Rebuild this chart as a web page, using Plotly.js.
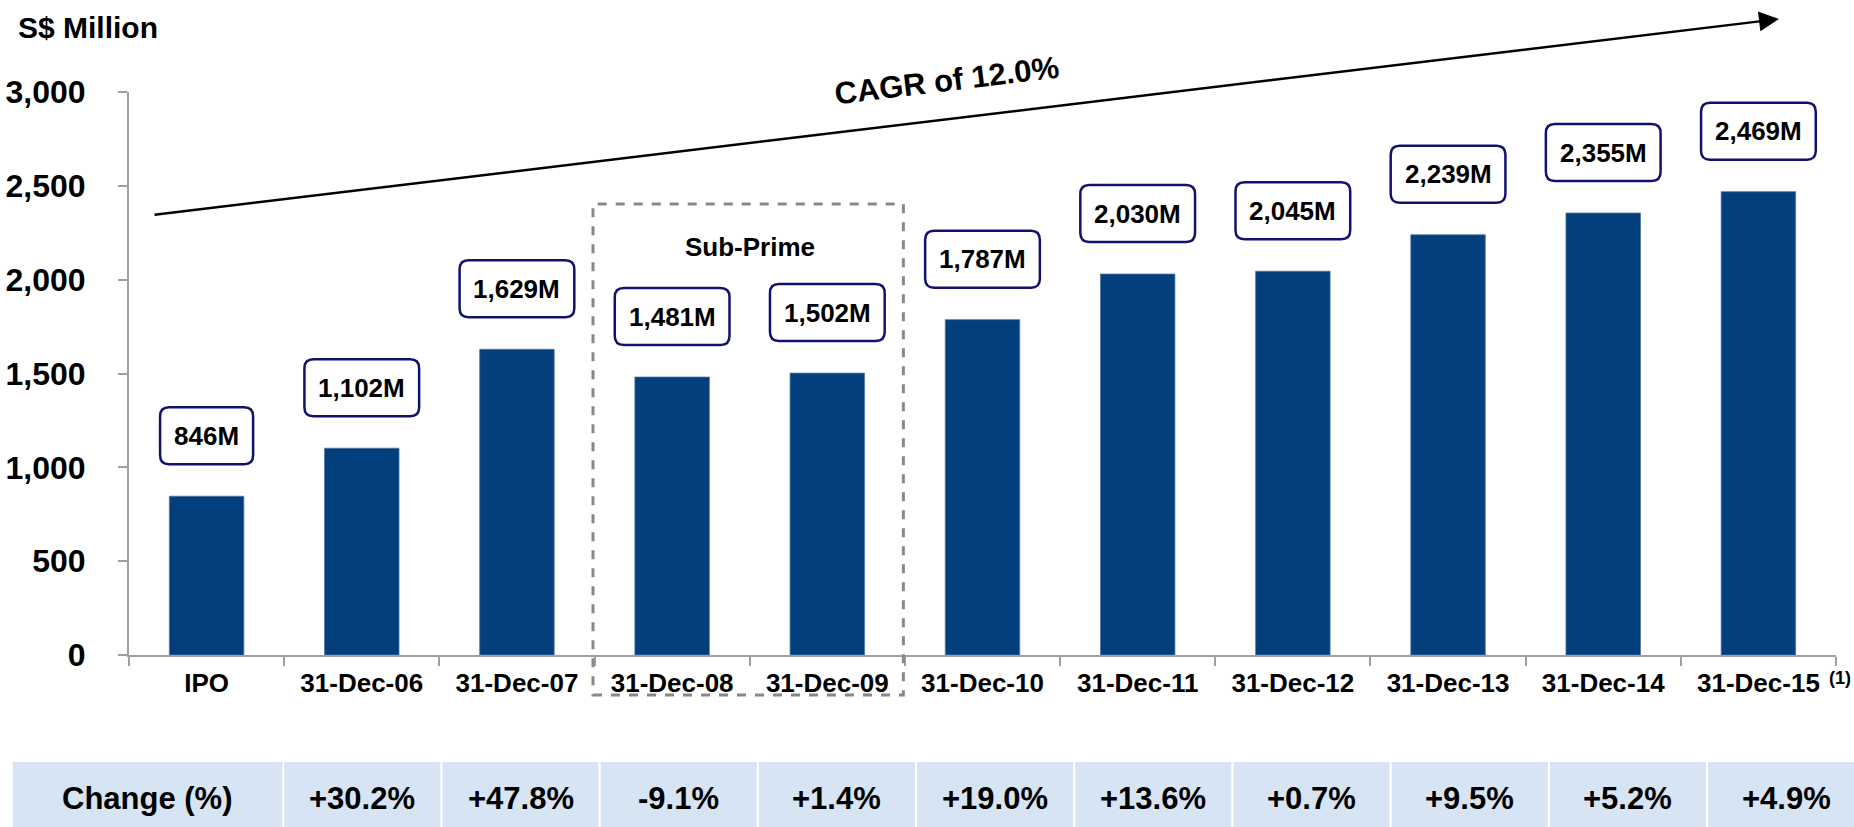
<!DOCTYPE html>
<html>
<head>
<meta charset="utf-8">
<script src="https://cdn.plot.ly/plotly-3.0.1.min.js"></script>
<style>html,body{margin:0;padding:0;background:#fff;}#chart{width:1854px;height:827px;}</style>
</head>
<body>
<div id="chart"></div>
<script>
// ---- data ----
var categories = ["IPO", "31-Dec-06", "31-Dec-07", "31-Dec-08", "31-Dec-09", "31-Dec-10", "31-Dec-11", "31-Dec-12", "31-Dec-13", "31-Dec-14", "31-Dec-15"];
var values = [846, 1102, 1629, 1481, 1502, 1787, 2030, 2045, 2239, 2355, 2469];
var changeHeader = "Change (%)";
var changePct = ["+30.2%", "+47.8%", "-9.1%", "+1.4%", "+19.0%", "+13.6%", "+0.7%", "+9.5%", "+5.2%", "+4.9%"];
var cagrLabel = "CAGR of 12.0%";
var yTitle = "S$ Million";
var subPrimeLabel = "Sub-Prime";
var subPrimeRange = ["31-Dec-08", "31-Dec-09"];
var footnoteMark = "(1)";

// ---- geometry helpers ----
var W = 1854, H = 827;
var M = {l: 129, r: 18, t: 92, b: 172};
var plotW = W - M.l - M.r, plotH = H - M.t - M.b;
function px(xp) { return (xp - M.l) / plotW; }
function py(yp) { return (H - M.b - yp) / plotH; }

var FONT = "Liberation Sans, Arial, sans-serif";
var navy = "#033f7c";
var boxColor = "#12126e";

var canvas = document.createElement("canvas");
var ctx = canvas.getContext("2d");
ctx.font = "bold 26px 'Liberation Sans', Arial";
function textW(t) { return ctx.measureText(t).width; }

function fmt(v) { return v.toLocaleString("en-US") + "M"; }

var shapes = [], annotations = [];

function paperText(xp, yp, text, size, extra) {
  var a = {x: px(xp), y: py(yp), xref: "paper", yref: "paper", text: text, showarrow: false,
    xanchor: "center", yanchor: "middle",
    font: {family: FONT, size: size, color: "#000", weight: "bold"}};
  if (extra) for (var k in extra) a[k] = extra[k];
  return a;
}

// value boxes with rounded corners
var boxGap = 32, boxH = 57, rad = 9;
values.forEach(function (v, i) {
  var label = fmt(v);
  var w = textW(label) + 28;
  var x0 = -w / 2, x1 = w / 2, y0 = boxGap, y1 = boxGap + boxH;
  var path = "M" + (x0 + rad) + "," + y0 +
    " L" + (x1 - rad) + "," + y0 + " Q" + x1 + "," + y0 + " " + x1 + "," + (y0 + rad) +
    " L" + x1 + "," + (y1 - rad) + " Q" + x1 + "," + y1 + " " + (x1 - rad) + "," + y1 +
    " L" + (x0 + rad) + "," + y1 + " Q" + x0 + "," + y1 + " " + x0 + "," + (y1 - rad) +
    " L" + x0 + "," + (y0 + rad) + " Q" + x0 + "," + y0 + " " + (x0 + rad) + "," + y0 + " Z";
  shapes.push({type: "path", xref: "x", yref: "y", xsizemode: "pixel", ysizemode: "pixel",
    xanchor: i, yanchor: v, path: path, fillcolor: "#ffffff",
    line: {color: boxColor, width: 2.5}, layer: "above"});
  annotations.push({x: categories[i], y: v, xref: "x", yref: "y", text: label, showarrow: false,
    xanchor: "center", yanchor: "middle",
    yshift: boxGap + boxH / 2, font: {family: FONT, size: 26, color: "#000", weight: "bold"}});
});

// Sub-prime dashed box
var spStart = categories.indexOf(subPrimeRange[0]), spEnd = categories.indexOf(subPrimeRange[1]);
shapes.push({type: "rect", xref: "x", yref: "paper", x0: spStart - 0.51, x1: spEnd + 0.49,
  y0: py(695), y1: py(204), line: {color: "#888888", width: 3, dash: "dash"},
  fillcolor: "rgba(0,0,0,0)", layer: "above"});
annotations.push({x: (spStart + spEnd) / 2, y: py(247), xref: "x", yref: "paper", text: subPrimeLabel,
  showarrow: false, xanchor: "center", yanchor: "middle",
  font: {family: FONT, size: 26, color: "#000", weight: "bold"}});

// CAGR arrow
annotations.push({x: px(1779), y: py(19), xref: "paper", yref: "paper", text: "",
  showarrow: true, ax: 153 - 1779, ay: 215 - 19, axref: "pixel", ayref: "pixel",
  arrowhead: 2, arrowsize: 1.6, arrowwidth: 2.5, arrowcolor: "#000", standoff: 0});
annotations.push(paperText(947, 81, cagrLabel, 31, {textangle: -6.9}));

// y title
annotations.push(paperText(16, 27, yTitle, 30, {xanchor: "left"}));

// footnote marker
annotations.push(paperText(1840, 678, footnoteMark, 18));

// change table
var cellFill = "#d6e4f4";
var tTop = 762, tBot = 827, tMid = 798.5;
shapes.push({type: "rect", xref: "paper", yref: "paper", x0: px(12.7), x1: px(282.3),
  y0: py(tBot), y1: py(tTop), fillcolor: cellFill, line: {width: 0}, layer: "below"});
annotations.push(paperText(147.5, tMid, changeHeader, 31));
changePct.forEach(function (t, i) {
  var x0 = 284.3 + i * 158.2, x1 = Math.min(x0 + 156, W);
  shapes.push({type: "rect", xref: "paper", yref: "paper", x0: px(x0), x1: px(x1),
    y0: py(tBot), y1: py(tTop), fillcolor: cellFill, line: {width: 0}, layer: "below"});
  annotations.push(paperText(x0 + 78, tMid, t, 31));
});

var trace = {
  type: "bar", x: categories, y: values, width: 0.48,
  marker: {color: navy, line: {color: "#4f77a3", width: 0.8}},
  hoverinfo: "skip"
};

var layout = {
  width: W, height: H, margin: M,
  paper_bgcolor: "#ffffff", plot_bgcolor: "#ffffff",
  showlegend: false,
  font: {family: FONT, color: "#000"},
  xaxis: {
    type: "category", range: [-0.5, categories.length - 0.5],
    showline: true, linecolor: "#a0a0a0", linewidth: 2,
    ticks: "outside", tickson: "boundaries", ticklen: 9, tickcolor: "#a0a0a0", tickwidth: 2,
    showgrid: false, zeroline: false, ticklabelstandoff: 4,
    tickfont: {family: FONT, size: 26, color: "#000", weight: "bold"}, fixedrange: true
  },
  yaxis: {
    range: [0, 3000], dtick: 500, tick0: 0, tickformat: ",",
    showline: true, linecolor: "#a0a0a0", linewidth: 2,
    ticks: "outside", ticklen: 9, tickcolor: "#a0a0a0", tickwidth: 2,
    showgrid: false, zeroline: false, ticklabelstandoff: 26,
    tickfont: {family: FONT, size: 32, color: "#000", weight: "bold"}, fixedrange: true
  },
  shapes: shapes,
  annotations: annotations
};

Plotly.newPlot("chart", [trace], layout, {displayModeBar: false, staticPlot: true});
</script>
</body>
</html>
